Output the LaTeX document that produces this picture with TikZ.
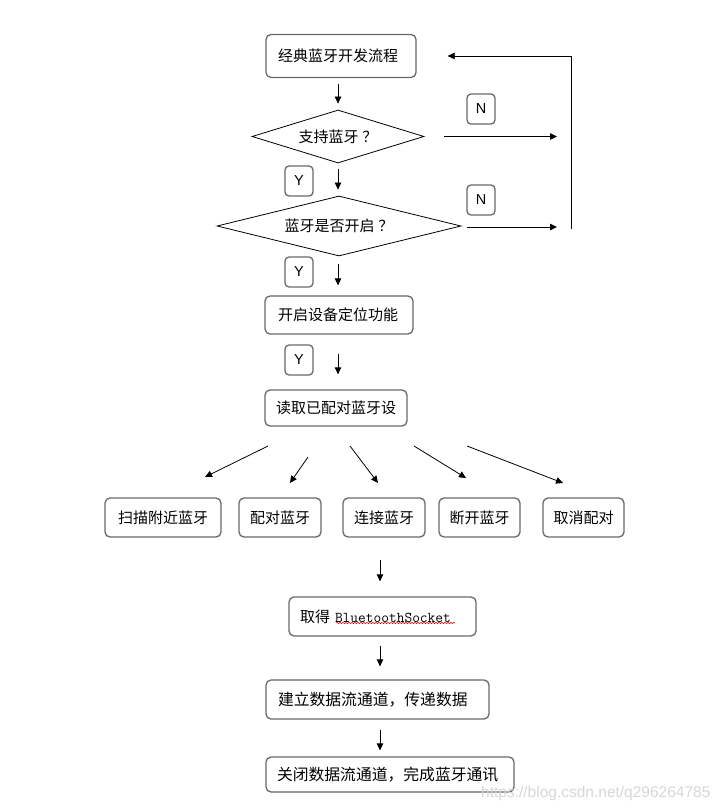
\documentclass[tikz,border=0pt]{standalone}
\usepackage{fontspec}
\setmainfont{Liberation Sans}
\newfontfamily\cjk{Noto Sans CJK SC}
\usetikzlibrary{arrows.meta,shapes.geometric,decorations.pathmorphing}
\definecolor{boxgray}{RGB}{105,105,105}
\definecolor{wmgray}{RGB}{215,215,215}
\tikzset{
  lbox/.style={draw=boxgray, line width=1.3pt, rounded corners=5pt, inner ysep=0pt,
    align=left, font=\cjk\fontsize{15}{18}\selectfont},
  cbox/.style={draw=boxgray, line width=1.3pt, rounded corners=5pt, inner sep=0pt,
    minimum height=39pt, font=\cjk\fontsize{15}{18}\selectfont},
  dia/.style={draw=black, line width=0.8pt, shape=diamond, inner sep=0pt,
    font=\cjk\fontsize{15}{18}\selectfont},
  yn/.style={draw=boxgray, line width=1.3pt, rounded corners=4pt, inner sep=0pt,
    minimum width=28pt, minimum height=30pt, font=\fontsize{14.5}{16}\selectfont},
  arr/.style={draw=black, line width=0.8pt, -{Triangle[length=7pt,width=6.5pt]}},
}
\begin{document}
\begin{tikzpicture}[x=1pt,y=-1pt]
\useasboundingbox[fill=white] (0,0) rectangle (725,810);

% main boxes
\node[lbox, inner xsep=12pt, text width=126pt, minimum height=43pt] (start) at (341,56) {经典蓝牙开发流程};
\node[dia, aspect=3.25, minimum width=172pt, minimum height=53pt] (d1) at (338,136.5) {支持蓝牙\hspace{4pt}？};
\node[dia, aspect=4.07, minimum width=244pt, minimum height=60pt] (d2) at (339,226) {蓝牙是否开启\hspace{4pt}？};
\node[lbox, inner xsep=13pt, text width=122pt, minimum height=38pt] (b1) at (339,315) {开启设备定位功能};
\node[lbox, inner xsep=11pt, text width=120pt, minimum height=36pt] (b2) at (336,408) {读取已配对蓝牙设};

% Y / N labels
\node[yn] (n1) at (481,109) {N};
\node[yn] (n2) at (481,200) {N};
\node[yn] (y1) at (299,181) {Y};
\node[yn] (y2) at (299,272) {Y};
\node[yn] (y3) at (299,360) {Y};

% bottom row
\node[cbox, minimum width=116pt] (s1) at (163,517.5) {扫描附近蓝牙};
\node[cbox, minimum width=82pt] (s2) at (280,517.5) {配对蓝牙};
\node[cbox, minimum width=82pt] (s3) at (384,517.5) {连接蓝牙};
\node[cbox, minimum width=81pt] (s4) at (479.5,517.5) {断开蓝牙};
\node[cbox, minimum width=81pt] (s5) at (583.5,517.5) {取消配对};

\node[lbox, inner xsep=11pt, text width=165pt, minimum height=39pt] (sock) at (382.5,616.5)
  {取得\hspace{5pt}{\ttfamily\fontsize{15}{16}\selectfont BluetoothSocket}};
\node[lbox, inner xsep=12pt, text width=199pt, minimum height=39pt, font=\cjk\fontsize{15.8}{18}\selectfont] (build) at (377.5,699.5) {建立数据流通道，传递数据};
\node[lbox, inner xsep=11pt, text width=226pt, minimum height=35pt, font=\cjk\fontsize{15.8}{18}\selectfont] (close) at (390,774.5) {关闭数据流通道，完成蓝牙通讯};

% spell-check underline
\draw[red, line width=0.5pt, decorate, decoration={snake, amplitude=0.7pt, segment length=3pt}] (336,623) -- (455,623);

% watermark
\node[text=wmgray, anchor=west, inner sep=0pt, font=\fontsize{15.5}{17}\selectfont] (wm) at (481,793) {https://blog.csdn.net/q296264785};

% vertical arrows
\draw[arr, shorten <=6pt, shorten >=6pt] (start.south -| d1.north) -- (d1.north);
\draw[arr, shorten <=6pt, shorten >=6pt] (d1.south) -- (d2.north -| d1.south);
\draw[arr, shorten <=8pt, shorten >=10pt] (d2.south -| d1.south) -- (b1.north -| d1.south);
\draw[arr, shorten <=19pt, shorten >=15pt] (b1.south -| d1.south) -- (b2.north -| d1.south);

% N branches and loop
\coordinate (ne1) at (557,136.5);
\coordinate (ne2) at (557,227);
\coordinate (lb) at (571,229);
\draw[arr, shorten <=20pt] (d1.east) -- (ne1);
\draw[arr, shorten <=6pt] (d2.east |- ne2) -- (ne2);
\draw[arr, shorten >=31pt] (lb) |- (start.east);

% fan arrows
\coordinate (fs1) at (268,446); \coordinate (fe1) at (205,477);
\coordinate (fs2) at (308,457); \coordinate (fe2) at (290,483);
\coordinate (fs3) at (350,446); \coordinate (fe3) at (378,483);
\coordinate (fs4) at (414,446); \coordinate (fe4) at (466,478);
\coordinate (fs5) at (467,446); \coordinate (fe5) at (563,483);
\foreach \i in {1,...,5} { \draw[arr] (fs\i) -- (fe\i); }

% lower chain
\coordinate (c1) at (380,560);
\draw[arr, shorten >=15pt] (c1) -- (c1 |- sock.north);
\draw[arr, shorten <=9pt, shorten >=13pt] (sock.south -| c1) -- (build.north -| c1);
\draw[arr, shorten <=10pt, shorten >=6pt] (build.south -| c1) -- (close.north -| c1);
\end{tikzpicture}
\end{document}
